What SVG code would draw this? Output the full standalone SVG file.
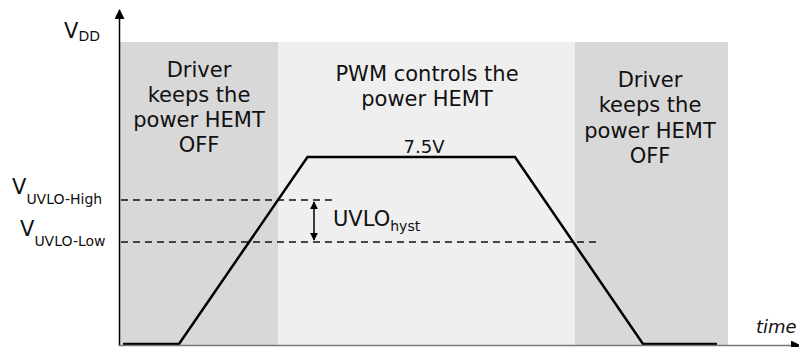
<svg xmlns="http://www.w3.org/2000/svg" width="799" height="347" viewBox="0 0 799 347">
<style>
.t{font-family:"DejaVu Sans","Verdana",sans-serif;font-size:21px;fill:#111;text-anchor:middle}
.l{font-family:"DejaVu Sans","Verdana",sans-serif;font-size:21px;fill:#111}
.s{font-size:14px}
.dash{stroke:#111;stroke-width:1.3;stroke-dasharray:7 5;fill:none}
.wave{stroke:#000;stroke-width:2.5;fill:none;stroke-linejoin:miter}
</style>
<defs>
<marker id="ah" viewBox="0 0 10 10" refX="9" refY="5" markerWidth="10" markerHeight="10" markerUnits="userSpaceOnUse" orient="auto">
<path d="M0,0 L10,5 L0,10 z" fill="#000"/>
</marker>
<marker id="ahs" viewBox="0 0 10 10" refX="9" refY="5" markerWidth="8" markerHeight="8" markerUnits="userSpaceOnUse" orient="auto-start-reverse">
<path d="M0,0 L10,5 L0,10 z" fill="#000"/>
</marker>
</defs>
<rect width="799" height="347" fill="#fff"/>
<g id="panel-left">
<rect x="120" y="42" width="158" height="303" fill="#d8d8d8"/>
<text class="t" x="199" y="77">Driver</text>
<text class="t" x="199" y="102">keeps the</text>
<text class="t" x="199" y="127">power HEMT</text>
<text class="t" x="199" y="152">OFF</text>
</g>
<g id="panel-middle">
<rect x="278" y="42" width="297" height="303" fill="#efefef"/>
<text class="t" x="427" y="81">PWM controls the</text>
<text class="t" x="427" y="106">power HEMT</text>
</g>
<g id="panel-right">
<rect x="575" y="42" width="153" height="303" fill="#d8d8d8"/>
<text class="t" x="650" y="87">Driver</text>
<text class="t" x="650" y="112">keeps the</text>
<text class="t" x="650" y="138">power HEMT</text>
<text class="t" x="650" y="163">OFF</text>
</g>
<g id="levels">
<line class="dash" x1="121" y1="200" x2="336" y2="200"/>
<line class="dash" x1="121" y1="242" x2="596" y2="242"/>
</g>
<g id="labels">
<text class="l" x="64" y="38">V<tspan class="s" dy="3">DD</tspan></text>
<text class="l" x="12" y="194">V<tspan class="s" dy="10">UVLO-High</tspan></text>
<text class="l" x="20" y="236">V<tspan class="s" dy="10">UVLO-Low</tspan></text>
<text class="l" x="333" y="226">UVLO<tspan class="s" dy="5">hyst</tspan></text>
<text class="l" x="424" y="153" style="font-size:18px;text-anchor:middle">7.5V</text>
<text class="l" x="756" y="333" style="font-size:18px;font-style:italic">time</text>
</g>
<g id="waveform">
<polyline class="wave" points="123,344 179,344 307.5,157 515,157 643,344 717,344"/>
</g>
<g id="connectors">
<line x1="119.5" y1="346" x2="119.5" y2="10" stroke="#000" stroke-width="1.5" marker-end="url(#ah)"/>
<line x1="119" y1="345.5" x2="800" y2="345.5" stroke="#777" stroke-width="1.3" marker-end="url(#ah)"/>
<line x1="314" y1="202" x2="314" y2="240" stroke="#000" stroke-width="1.5" marker-start="url(#ahs)" marker-end="url(#ahs)"/>
</g>
</svg>
